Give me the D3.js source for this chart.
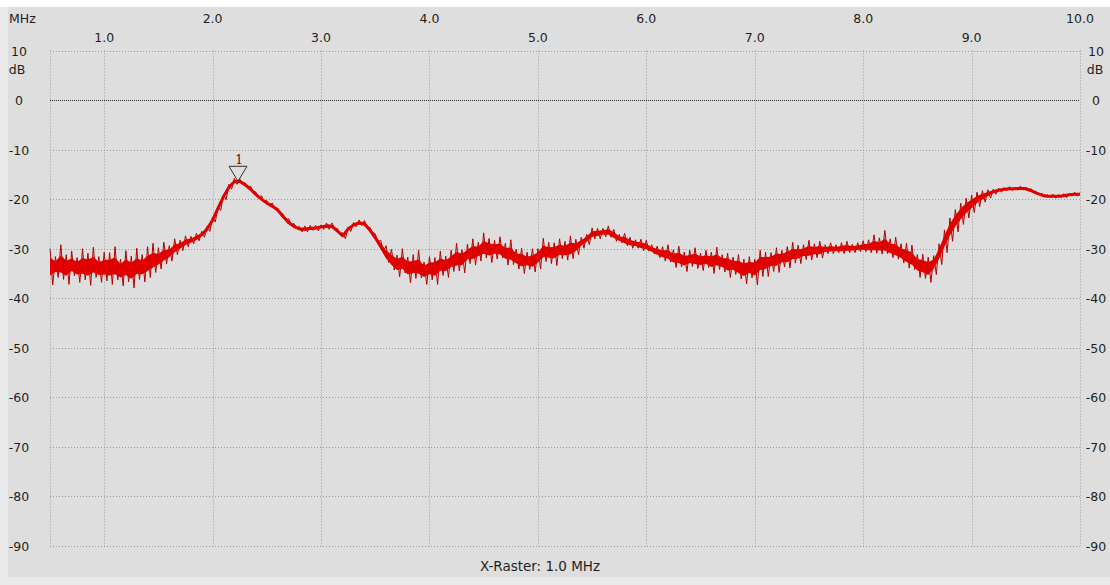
<!DOCTYPE html>
<html>
<head>
<meta charset="utf-8">
<script src="https://cdn.jsdelivr.net/npm/d3@7/dist/d3.min.js"></script>
<style>
  html, body { margin: 0; padding: 0; background: #ffffff; }
  svg { display: block; }
  text { font-family: "DejaVu Sans", Verdana, sans-serif; font-size: 12.5px; fill: #1e1e1e; }
</style>
</head>
<body>
<svg id="chart" width="1110" height="585"></svg>
<script>
// ---------------- DATA ----------------
const xTicks = [1, 2, 3, 4, 5, 6, 7, 8, 9, 10];
const xTickLabels = ["1.0","2.0","3.0","4.0","5.0","6.0","7.0","8.0","9.0","10.0"];
const yTicks = [10, 0, -10, -20, -30, -40, -50, -60, -70, -80, -90];
const yTickLabels = ["10","0","-10","-20","-30","-40","-50","-60","-70","-80","-90"];
const xUnit = "MHz";
const yUnit = "dB";
const footer = "X-Raster: 1.0 MHz";

const freq = [
0.50,0.55,0.60,0.65,0.70,0.75,0.80,0.85,0.90,0.95,
1.00,1.05,1.10,1.15,1.20,1.25,1.30,1.35,1.40,1.45,
1.50,1.55,1.60,1.65,1.70,1.75,1.80,1.85,1.90,1.95,
2.00,2.05,2.10,2.15,2.20,2.25,2.30,2.35,2.40,2.45,
2.50,2.55,2.60,2.65,2.70,2.75,2.80,2.85,2.90,2.95,
3.00,3.05,3.10,3.15,3.20,3.25,3.30,3.35,3.40,3.45,
3.50,3.55,3.60,3.65,3.70,3.75,3.80,3.85,3.90,3.95,
4.00,4.05,4.10,4.15,4.20,4.25,4.30,4.35,4.40,4.45,
4.50,4.55,4.60,4.65,4.70,4.75,4.80,4.85,4.90,4.95,
5.00,5.05,5.10,5.15,5.20,5.25,5.30,5.35,5.40,5.45,
5.50,5.55,5.60,5.65,5.70,5.75,5.80,5.85,5.90,5.95,
6.00,6.05,6.10,6.15,6.20,6.25,6.30,6.35,6.40,6.45,
6.50,6.55,6.60,6.65,6.70,6.75,6.80,6.85,6.90,6.95,
7.00,7.05,7.10,7.15,7.20,7.25,7.30,7.35,7.40,7.45,
7.50,7.55,7.60,7.65,7.70,7.75,7.80,7.85,7.90,7.95,
8.00,8.05,8.10,8.15,8.20,8.25,8.30,8.35,8.40,8.45,
8.50,8.55,8.60,8.65,8.70,8.75,8.80,8.85,8.90,8.95,
9.00,9.05,9.10,9.15,9.20,9.25,9.30,9.35,9.40,9.45,
9.50,9.55,9.60,9.65,9.70,9.75,9.80,9.85,9.90,9.95,
10.00];

const level = [
-33.5,-33.6,-33.4,-33.7,-33.5,-33.6,-33.8,-33.5,-33.7,-33.8,
-33.9,-33.6,-34.0,-34.1,-33.9,-34.2,-34.0,-33.6,-33.2,-32.8,
-32.3,-31.7,-31.0,-30.2,-29.5,-28.9,-28.4,-27.9,-27.2,-26.0,
-24.2,-21.8,-19.5,-17.6,-16.5,-16.4,-17.1,-18.0,-19.1,-20.0,
-20.8,-21.4,-22.2,-23.5,-24.7,-25.5,-26.0,-26.1,-25.9,-25.8,
-25.6,-25.4,-25.5,-26.4,-27.4,-26.0,-25.2,-24.8,-25.0,-26.2,
-27.8,-29.5,-31.2,-32.3,-32.9,-33.2,-33.5,-33.8,-34.1,-34.2,
-34.0,-33.7,-33.5,-33.2,-32.8,-32.3,-31.8,-31.3,-30.9,-30.5,
-30.1,-29.9,-29.9,-30.3,-30.8,-31.3,-31.8,-32.2,-32.5,-32.6,
-31.5,-30.8,-30.7,-30.5,-30.4,-30.3,-30.2,-29.7,-28.9,-28.0,
-27.2,-26.9,-26.7,-26.7,-27.2,-28.0,-28.4,-28.7,-29.0,-29.3,
-29.7,-30.1,-30.6,-31.0,-31.4,-31.8,-32.1,-32.2,-32.2,-32.2,
-32.2,-32.3,-32.4,-32.5,-32.7,-33.0,-33.3,-33.7,-33.9,-33.8,
-33.5,-33.0,-32.6,-32.4,-32.1,-31.8,-31.6,-31.3,-31.0,-30.7,
-30.5,-30.4,-30.3,-30.2,-30.1,-30.1,-30.0,-30.0,-29.9,-29.9,
-29.8,-29.8,-29.7,-29.6,-29.7,-30.0,-30.5,-30.9,-31.5,-32.3,
-33.0,-33.5,-33.8,-33.0,-31.0,-28.4,-26.2,-24.4,-23.0,-21.8,
-21.0,-20.1,-19.5,-19.0,-18.5,-18.2,-18.0,-17.9,-17.9,-17.8,
-17.9,-18.3,-18.8,-19.2,-19.4,-19.4,-19.4,-19.3,-19.1,-19.0,
-19.0];

const noiseUp = [
3.5,2.0,4.2,2.5,3.0,1.8,3.8,2.6,4.0,2.2,3.2,2.8,4.4,2.0,3.5,2.7,4.1,2.4,3.6,3.9,
2.5,3.0,1.6,2.2,1.2,1.5,0.9,1.0,0.7,
0.6,0.5,0.4,0.5,0.6,0.7,0.5,0.4,0.6,0.5,0.7,0.5,0.6,0.4,0.5,0.8,0.6,0.5,0.7,0.6,0.5,0.4,0.6,0.7,0.5,0.6,0.4,0.5,0.6,0.7,0.5,
0.8,1.2,1.8,
2.2,1.6,3.2,1.8,2.6,3.8,1.5,2.4,1.9,3.0,1.7,2.5,3.4,1.6,2.2,2.9,1.8,3.3,2.0,1.6,2.7,1.9,3.1,1.7,2.3,1.8,2.6,1.5,2.9,2.0,1.7,2.4,1.8,2.8,1.6,
1.2,0.9,1.4,1.0,0.8,1.3,1.1,0.9,1.5,1.0,0.8,1.2,1.4,0.9,1.1,
1.4,2.2,1.6,2.6,1.5,1.9,2.4,1.3,2.0,1.7,2.8,1.5,2.1,1.6,2.5,1.8,2.2,1.4,2.7,1.9,1.6,2.3,1.5,2.0,2.6,1.7,1.5,2.2,1.4,1.8,
1.0,1.3,0.9,1.2,1.5,0.8,1.1,1.4,1.6,
2.5,1.8,3.4,2.0,2.8,1.9,2.6,3.0,1.8,2.4,2.1,1.6,
2.0,2.2,2.4,2.3,2.2,2.0,1.8,1.5,1.2,0.9,
0.5,0.4,0.3,0.4,0.3,0.4,0.3,0.4,0.3,0.4,0.3,0.4,0.3,0.4,0.3,0.4,0.3];

const noiseDown = [
3.8,2.2,2.8,3.5,2.0,3.2,2.5,3.9,2.1,3.0,2.6,3.6,2.3,3.4,2.8,3.7,2.2,3.1,2.6,2.0,
1.8,1.4,1.5,1.0,0.9,0.7,0.6,0.5,0.5,
0.5,0.4,0.5,0.6,0.4,0.5,0.6,0.5,0.4,0.6,0.5,0.4,0.5,0.6,0.7,0.5,0.4,0.6,0.5,0.4,0.6,0.5,0.7,0.4,0.5,0.6,0.5,0.4,0.5,0.6,0.5,
0.8,1.2,1.6,
2.0,2.8,1.7,3.4,2.2,1.8,3.0,2.3,3.5,1.9,2.6,1.8,2.2,3.1,1.7,2.4,2.0,1.8,2.9,2.2,1.6,2.5,1.9,2.3,2.8,1.7,2.1,2.6,1.8,2.3,2.9,1.6,2.0,1.8,1.5,
1.0,1.2,0.8,1.1,0.9,1.0,1.3,0.8,1.0,1.2,0.9,1.1,0.8,1.0,1.2,
1.5,1.3,2.0,1.6,2.4,1.4,1.8,2.2,1.5,2.6,1.7,2.0,2.8,1.9,2.4,3.2,2.1,3.8,2.6,3.0,2.2,2.7,1.9,2.3,1.6,2.0,1.5,1.8,1.4,1.6,
0.8,0.9,0.7,1.0,0.8,0.9,0.7,0.8,1.0,
1.2,1.5,1.3,1.8,1.6,2.0,2.4,1.9,2.8,2.5,3.0,2.2,
2.2,2.4,2.3,2.2,2.1,2.0,1.7,1.4,1.1,0.8,
0.5,0.4,0.3,0.4,0.3,0.4,0.3,0.4,0.3,0.4,0.3,0.4,0.3,0.4,0.3,0.4,0.3];

const marker = { label: "1", freq: 2.234, value: -16.4 };

// ---------------- CHART ----------------
const svg = d3.select("#chart");
const W = 1110, H = 585;
const pLeft = 50, pRight = 1080, pTop = 50.5, pBottom = 546;

const x = d3.scaleLinear().domain([0.5, 10]).range([pLeft, pRight]);
const y = d3.scaleLinear().domain([10, -90]).range([pTop, pBottom]);

// background panels
svg.append("rect").attr("x", 0).attr("y", 0).attr("width", W).attr("height", H).attr("fill", "#ffffff");
svg.append("rect").attr("x", 0).attr("y", 7).attr("width", W).attr("height", H - 7).attr("fill", "#e9e9e9");
svg.append("rect").attr("x", 8).attr("y", 7).attr("width", W - 8).attr("height", 570).attr("fill", "#dedede");

// grid
const grid = svg.append("g");
grid.selectAll("line.h").data(yTicks).join("line")
  .attr("x1", pLeft).attr("x2", pRight)
  .attr("y1", d => Math.round(y(d)) + 0.5).attr("y2", d => Math.round(y(d)) + 0.5)
  .attr("stroke", d => d === 0 ? "#2a2a2a" : "#9a9a9a")
  .attr("stroke-width", 1)
  .attr("stroke-dasharray", d => d === 0 ? "1,1" : "1,2");
grid.selectAll("line.v").data([0.5].concat(xTicks)).join("line")
  .attr("x1", d => Math.round(x(d)) + 0.5).attr("x2", d => Math.round(x(d)) + 0.5)
  .attr("y1", pTop).attr("y2", pBottom)
  .attr("stroke", "#9a9a9a").attr("stroke-width", 1)
  .attr("stroke-dasharray", "1,2");

// top axis labels (two staggered rows)
const xAxisG = svg.append("g");
xAxisG.selectAll("text").data(xTicks).join("text")
  .attr("x", d => x(d))
  .attr("y", (d, i) => (i % 2 === 1) ? 23 : 42)
  .attr("text-anchor", "middle")
  .text((d, i) => xTickLabels[i]);
svg.append("text").attr("x", 9).attr("y", 23).text(xUnit);

// left / right axis labels
const yl = svg.append("g");
yl.selectAll("text").data(yTicks).join("text")
  .attr("x", 19).attr("y", d => y(d) + 5)
  .attr("text-anchor", "middle")
  .text((d, i) => yTickLabels[i]);
svg.append("text").attr("x", 17).attr("y", 74).attr("text-anchor", "middle").text(yUnit);
const yr = svg.append("g");
yr.selectAll("text").data(yTicks).join("text")
  .attr("x", 1096).attr("y", d => y(d) + 5)
  .attr("text-anchor", "middle")
  .text((d, i) => yTickLabels[i]);
svg.append("text").attr("x", 1095).attr("y", 74).attr("text-anchor", "middle").text(yUnit);

// footer
svg.append("text").attr("x", 540).attr("y", 571).attr("text-anchor", "middle")
  .style("font-size", "13.5px").text(footer);

// ---------------- TRACE ----------------
const pts = freq.map((f, i) => ({ f, c: level[i], hi: level[i] + noiseUp[i], lo: level[i] - noiseDown[i] }));

// spikes: zig-zag between upper and lower extents
const zig = [];
pts.forEach((p, i) => {
  const x0 = x(p.f);
  const nx = i < pts.length - 1 ? x(pts[i + 1].f) : x0;
  zig.push([x0, y(p.hi)]);
  zig.push([(x0 + nx) / 2, y(p.lo)]);
});
const plot = svg.append("g");
plot.append("path")
  .attr("d", d3.line()(zig.slice(0, zig.length - 1)))
  .attr("fill", "none").attr("stroke", "#b00000").attr("stroke-width", 1);

// body of trace
plot.append("path")
  .datum(pts)
  .attr("d", d3.area()
    .x(d => x(d.f))
    .y0(d => y(d.c - (d.c - d.lo) * 0.5))
    .y1(d => y(d.c + (d.hi - d.c) * 0.5)))
  .attr("fill", "#e00000");
plot.append("path")
  .datum(pts)
  .attr("d", d3.line().x(d => x(d.f)).y(d => y(d.c)))
  .attr("fill", "none").attr("stroke", "#e00000").attr("stroke-width", 3)
  .attr("stroke-linejoin", "round");

// marker
const mx = x(marker.freq), my = y(marker.value);
svg.append("path")
  .attr("d", `M${mx - 9},${my - 15} L${mx + 9},${my - 15} L${mx},${my} Z`)
  .attr("fill", "none").attr("stroke", "#333333").attr("stroke-width", 1);
svg.append("text").attr("x", mx + 1).attr("y", my - 17).attr("text-anchor", "middle")
  .style("font-family", "'DejaVu Serif', serif").style("font-size", "12px").text(marker.label);
</script>
</body>
</html>
